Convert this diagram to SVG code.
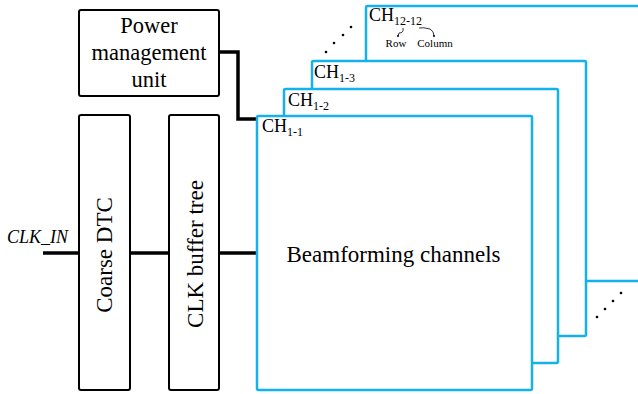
<svg xmlns="http://www.w3.org/2000/svg" width="638" height="394" viewBox="0 0 638 394">
<style>
.blk{fill:#fff;stroke:#000;stroke-width:2}
.ch{fill:#fff;stroke:#14b1ec;stroke-width:2.5}
.wire{fill:none;stroke:#000;stroke-width:3.5}
.t{fill:#000}
.dot{fill:#000}
.br{fill:none;stroke:#000;stroke-width:0.8}
</style>
<rect width="638" height="394" fill="#fff"/>
<g id="connectors">
<polyline class="wire" points="43,253 79,253"/>
<polyline class="wire" points="130,253 169,253"/>
<polyline class="wire" points="219,253 257,253"/>
<polyline class="wire" points="219,52 238,52 238,119 258,119"/>
</g>
<g font-family="'Liberation Serif','Times New Roman','DejaVu Serif',serif">
<g id="ch12-12">
<rect class="ch" x="366" y="6" width="280" height="275" rx="1.5"/>
<text class="t" x="369" y="21" font-size="18">CH<tspan font-size="12" dy="4">12-12</tspan></text>
<path class="br" d="M403,28 Q404,33 399,33 L398,36"/>
<path class="br" d="M419,28 Q423,27 430,29 Q434,31 434,36"/>
<circle class="dot" cx="398" cy="36" r="1"/>
<circle class="dot" cx="434" cy="36" r="1"/>
<text class="t" x="396" y="47" font-size="11" text-anchor="middle">Row</text>
<text class="t" x="435" y="47" font-size="11" text-anchor="middle">Column</text>
</g>
<g id="dots">
<circle class="dot" cx="326" cy="52" r="1.3"/>
<circle class="dot" cx="334" cy="43" r="1.3"/>
<circle class="dot" cx="343" cy="35" r="1.3"/>
<circle class="dot" cx="351" cy="27" r="1.3"/>
<circle class="dot" cx="597" cy="317" r="1.3"/>
<circle class="dot" cx="605" cy="309" r="1.3"/>
<circle class="dot" cx="613" cy="301" r="1.3"/>
<circle class="dot" cx="621" cy="293" r="1.3"/>
</g>
<g id="ch1-3">
<rect class="ch" x="312" y="61" width="274" height="275" rx="1.5"/>
<text class="t" x="314" y="78" font-size="18">CH<tspan font-size="12" dy="4">1-3</tspan></text>
</g>
<g id="ch1-2">
<rect class="ch" x="284" y="89" width="274" height="274" rx="1.5"/>
<text class="t" x="288" y="106" font-size="18">CH<tspan font-size="12" dy="4">1-2</tspan></text>
</g>
<g id="ch1-1">
<rect class="ch" x="257" y="116" width="275" height="274" rx="1.5"/>
<text class="t" x="262" y="132" font-size="18">CH<tspan font-size="12" dy="4">1-1</tspan></text>
<text class="t" x="393.5" y="262" font-size="23" text-anchor="middle">Beamforming channels</text>
</g>
<g id="pmu">
<rect class="blk" x="79" y="10" width="140" height="86" rx="2"/>
<text class="t" x="149" y="33" font-size="22.5" text-anchor="middle">Power</text>
<text class="t" x="149" y="60" font-size="22.5" text-anchor="middle">management</text>
<text class="t" x="149" y="87" font-size="22.5" text-anchor="middle">unit</text>
</g>
<g id="coarse-dtc">
<rect class="blk" x="79" y="115" width="51" height="275" rx="2"/>
<text class="t" font-size="23" text-anchor="middle" transform="translate(112,255) rotate(-90)">Coarse DTC</text>
</g>
<g id="clk-buffer">
<rect class="blk" x="169" y="115" width="50" height="275" rx="2"/>
<text class="t" font-size="23" text-anchor="middle" transform="translate(202.5,254) rotate(-90)">CLK buffer tree</text>
</g>
<g id="clk-in">
<text class="t" x="7" y="243" font-size="18" font-style="italic">CLK_IN</text>
</g>
</g>
</svg>
